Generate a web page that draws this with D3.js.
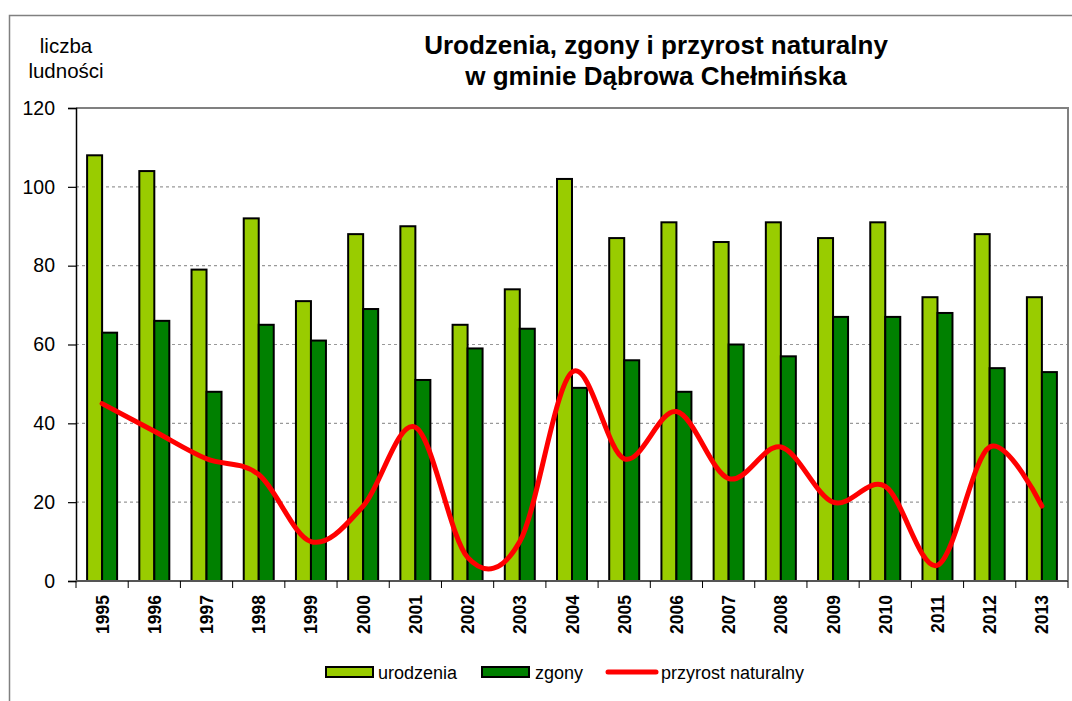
<!DOCTYPE html>
<html>
<head>
<meta charset="utf-8">
<script src="https://cdn.jsdelivr.net/npm/d3@7"></script>
<style>
    body { margin: 0; background: #fff; }
    text { font-family: Arial, "Liberation Sans", sans-serif; fill: #000; }
</style>
</head>
<body>
<svg id="chart" width="1072" height="701"></svg>
<script>
"use strict";

var years = ["1995", "1996", "1997", "1998", "1999", "2000", "2001", "2002", "2003", "2004",
    "2005", "2006", "2007", "2008", "2009", "2010", "2011", "2012", "2013"];
var urodzenia = [108, 104, 79, 92, 71, 88, 90, 65, 74, 102, 87, 91, 86, 91, 87, 91, 72, 88, 72];
var zgony = [63, 66, 48, 65, 61, 69, 51, 59, 64, 49, 56, 48, 60, 57, 67, 67, 68, 54, 53];
var przyrost = [45, 38, 31, 27, 10, 19, 39, 6, 10, 53, 31, 43, 26, 34, 20, 24, 4, 34, 19];
var yTicks = [0, 20, 40, 60, 80, 100, 120];

var colors = { urodzenia: "#99cc00", zgony: "#008000", przyrost: "#ff0000" };

var svg = d3.select("#chart");
var margin = { left: 76, right: 1068, top: 108, bottom: 581 };

// outer frame
svg.append("rect")
    .attr("x", 9.5).attr("y", 15.5)
    .attr("width", 1080).attr("height", 700)
    .attr("fill", "none").attr("stroke", "#808080").attr("stroke-width", 1.5);

// title
var title = svg.append("text")
    .attr("text-anchor", "middle")
    .style("font-weight", "bold").style("font-size", "26px");
title.append("tspan").attr("x", 656).attr("y", 54).text("Urodzenia, zgony i przyrost naturalny");
title.append("tspan").attr("x", 656).attr("y", 85).text("w gminie Dąbrowa Chełmińska");

// y axis label
var ylab = svg.append("text").attr("text-anchor", "middle").style("font-size", "20.5px");
ylab.append("tspan").attr("x", 66).attr("y", 53).text("liczba");
ylab.append("tspan").attr("x", 66).attr("y", 78).text("ludności");

var x = d3.scaleBand().domain(years).range([margin.left, margin.right]).paddingInner(0).paddingOuter(0);
var y = d3.scaleLinear().domain([0, 120]).range([margin.bottom, margin.top]);

// grid
svg.append("g").selectAll("line")
    .data(yTicks.filter(function (d) { return d > 0 && d < 120; }))
    .enter().append("line")
    .attr("x1", margin.left).attr("x2", margin.right)
    .attr("y1", function (d) { return y(d); }).attr("y2", function (d) { return y(d); })
    .attr("stroke", "#999").attr("stroke-width", 1.2).attr("stroke-dasharray", "3,3");

// plot area border (top + right)
svg.append("path")
    .attr("d", "M" + margin.left + "," + margin.top + "H" + margin.right + "V" + margin.bottom)
    .attr("fill", "none").attr("stroke", "#808080").attr("stroke-width", 2);

// bars
var barW = 15;
var barGroup = svg.append("g");
barGroup.selectAll("rect.uro")
    .data(urodzenia).enter().append("rect")
    .attr("class", "uro")
    .attr("x", function (d, i) { return x(years[i]) + x.bandwidth() / 2 - barW; })
    .attr("y", function (d) { return y(d); })
    .attr("width", barW)
    .attr("height", function (d) { return y(0) - y(d); })
    .attr("fill", colors.urodzenia).attr("stroke", "#000").attr("stroke-width", 2);
barGroup.selectAll("rect.zg")
    .data(zgony).enter().append("rect")
    .attr("class", "zg")
    .attr("x", function (d, i) { return x(years[i]) + x.bandwidth() / 2; })
    .attr("y", function (d) { return y(d); })
    .attr("width", barW)
    .attr("height", function (d) { return y(0) - y(d); })
    .attr("fill", colors.zgony).attr("stroke", "#000").attr("stroke-width", 2);

// line
var line = d3.line()
    .x(function (d, i) { return x(years[i]) + x.bandwidth() / 2; })
    .y(function (d) { return y(d); })
    .curve(d3.curveCardinal.tension(0));
svg.append("path")
    .datum(przyrost)
    .attr("d", line)
    .attr("fill", "none").attr("stroke", colors.przyrost)
    .attr("stroke-width", 5).attr("stroke-linecap", "round");

// y axis
var yAxis = d3.axisLeft(y).tickValues(yTicks).tickSize(8).tickPadding(13);
var gY = svg.append("g").attr("transform", "translate(" + margin.left + ",0)").call(yAxis);
gY.select(".domain").attr("stroke", "#000").attr("stroke-width", 1.5);
gY.selectAll(".tick line").attr("stroke", "#000").attr("stroke-width", 1.2);
gY.selectAll(".tick text").style("font-size", "19.5px").style("font-family", "Arial, 'Liberation Sans', sans-serif");

// x axis with ticks between categories
var gX = svg.append("g").attr("transform", "translate(0," + margin.bottom + ")");
gX.append("line").attr("x1", margin.left).attr("x2", margin.right)
    .attr("stroke", "#555").attr("stroke-width", 2);
var bounds = years.map(function (d) { return x(d); }).concat([margin.right]);
gX.selectAll("line.tk").data(bounds).enter().append("line")
    .attr("class", "tk")
    .attr("x1", function (d) { return d; }).attr("x2", function (d) { return d; })
    .attr("y1", 0).attr("y2", 7)
    .attr("stroke", "#000").attr("stroke-width", 1);
gX.selectAll("text").data(years).enter().append("text")
    .attr("transform", function (d) {
        return "translate(" + (x(d) + x.bandwidth() / 2 + 6.5) + ",14) rotate(-90)";
    })
    .attr("text-anchor", "end")
    .style("font-weight", "bold").style("font-size", "17.5px")
    .text(function (d) { return d; });

// legend
var legend = svg.append("g").attr("transform", "translate(0,672)");
legend.append("rect").attr("x", 326).attr("y", -5).attr("width", 47).attr("height", 10)
    .attr("fill", colors.urodzenia).attr("stroke", "#000").attr("stroke-width", 2);
legend.append("text").attr("x", 378).attr("y", 6.5).style("font-size", "18px").text("urodzenia");
legend.append("rect").attr("x", 482).attr("y", -5).attr("width", 47).attr("height", 10)
    .attr("fill", colors.zgony).attr("stroke", "#000").attr("stroke-width", 2);
legend.append("text").attr("x", 535).attr("y", 6.5).style("font-size", "18px").text("zgony");
legend.append("line").attr("x1", 608).attr("x2", 656).attr("y1", 0).attr("y2", 0)
    .attr("stroke", colors.przyrost).attr("stroke-width", 5).attr("stroke-linecap", "round");
legend.append("text").attr("x", 661).attr("y", 6.5).style("font-size", "18px").text("przyrost naturalny");
</script>
</body>
</html>
